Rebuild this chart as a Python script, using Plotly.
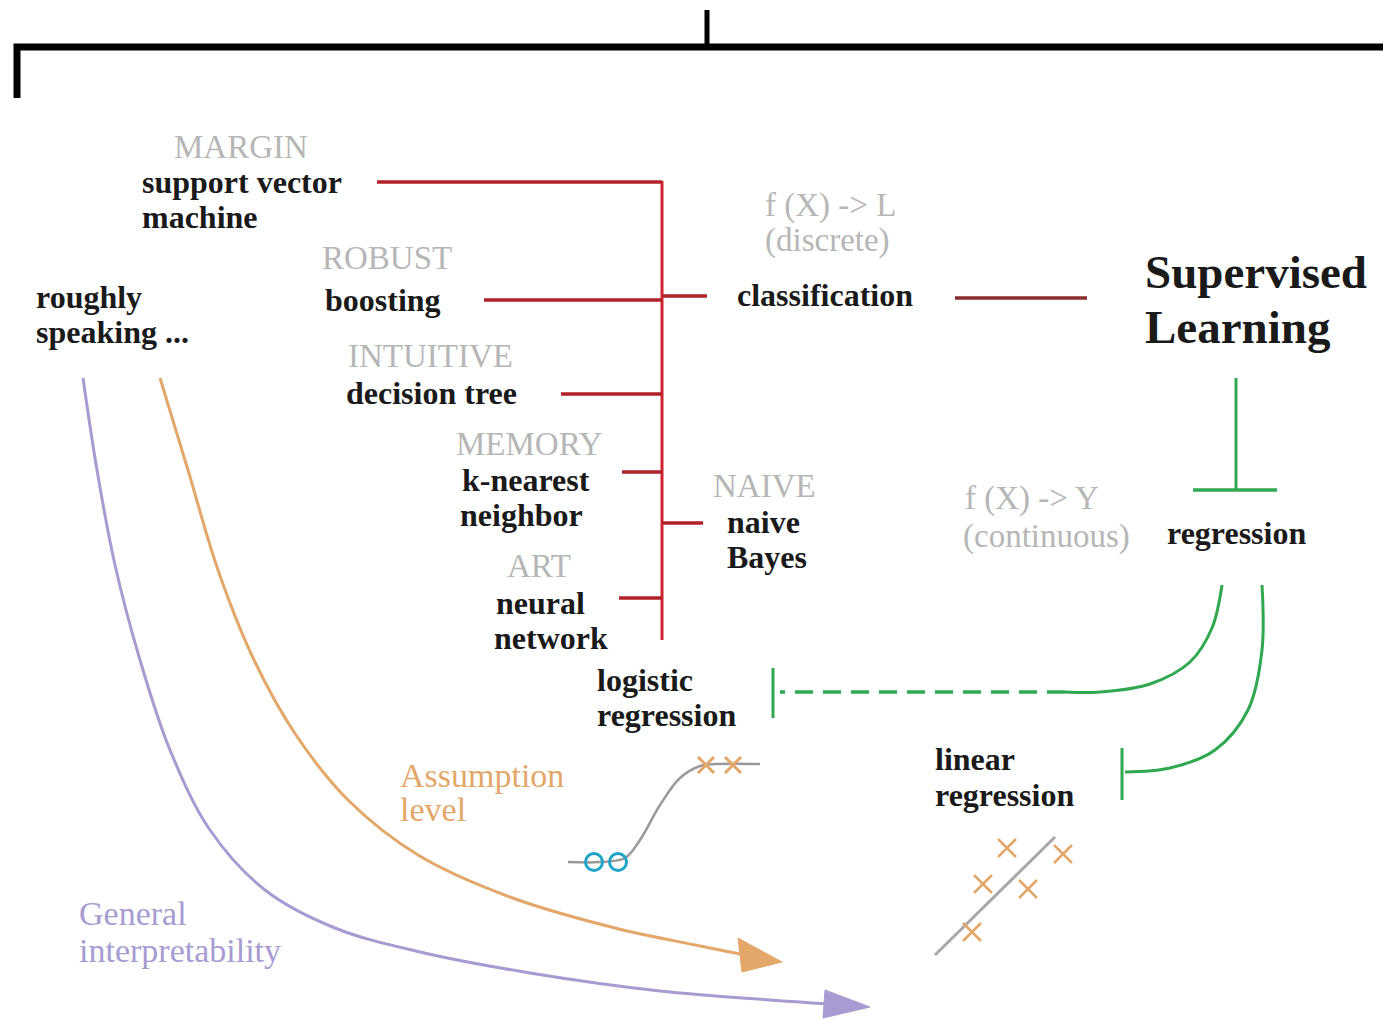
import plotly.graph_objects as go

W, H = 1383, 1020

# ---------------- data ----------------
black_lines = ["support vector", "machine", "boosting", "roughly", "speaking ...", "decision tree",
               "k-nearest", "neighbor", "naive", "Bayes", "neural", "network", "classification",
               "regression", "logistic", "regression", "linear", "regression"]
black_pos = [(142, 182), (142, 217), (325, 300), (36, 297), (36, 332), (346, 393),
             (462, 480), (460, 515), (727, 522), (727, 557), (496, 603), (494, 638),
             (737, 295), (1167, 533), (597, 680), (597, 715), (935, 759), (935, 795)]

gray_lines = ["MARGIN", "ROBUST", "INTUITIVE", "MEMORY", "NAIVE", "ART",
              "f (X) -> L", "(discrete)", "f (X) -> Y", "(continuous)"]
gray_pos = [(174, 147), (322, 258), (348, 356), (456, 444), (713, 486), (507, 566),
            (765, 205), (765, 240), (965, 498), (963, 536)]

title_lines = ["Supervised", "Learning"]
title_pos = [(1145, 272), (1145, 327)]

assume_lines = ["Assumption", "level"]
assume_pos = [(400, 775), (400, 809)]
interp_lines = ["General", "interpretability"]
interp_pos = [(79, 913), (79, 950)]

# red classification tree: branch start x, y
red_branch_x = [377, 484, 561, 622, 619]
red_branch_y = [182, 300, 394, 472, 598]
red_trunk_x = 662
red_trunk_y = [181, 640]
red_stub_x = [[662, 707], [662, 703]]
red_stub_y = [296, 523]
class_link_x = [955, 1087]
class_link_y = 298

# top black bracket
bracket_x = [17, 17, 1383]
bracket_y = [98, 47, 47]
bracket_tick_x = [707, 707]
bracket_tick_y = [10, 47]

# green regression connections
green_stem_x = [1236, 1236]
green_stem_y = [378, 490]
green_bar_x = [1193, 1277]
green_bar_y = [490, 490]
logit_curve_x = [1222, 1212, 1190, 1150, 1100, 1065]
logit_curve_y = [585, 628, 662, 684, 692, 692]
logit_dash_x = [1065, 780]
logit_dash_y = [692, 692]
logit_bar_x = [773, 773]
logit_bar_y = [668, 718]
lin_curve_x = [1262, 1262, 1248, 1215, 1170, 1125]
lin_curve_y = [585, 650, 710, 750, 768, 772]
lin_bar_x = [1122, 1122]
lin_bar_y = [748, 800]

# logistic mini plot
sig_x = [568, 600, 625, 640, 660, 680, 700, 715, 760]
sig_y = [862, 862, 858, 840, 805, 778, 766, 764, 764]
circ_x = [594, 618]
circ_y = [862, 862]
sig_cross_x = [706, 733]
sig_cross_y = [765, 765]

# linear mini plot
lin_x = [935, 1055]
lin_y = [955, 837]
lin_cross_x = [1007, 1063, 983, 1028, 972]
lin_cross_y = [848, 854, 884, 889, 932]

# sweeping arrows
assume_x = [160, 188, 218, 254, 296, 348, 418, 510, 615, 700, 745]
assume_y = [378, 470, 570, 660, 735, 800, 855, 897, 928, 946, 955]
assume_head_x = [738, 782, 742, 738]
assume_head_y = [938, 962, 972, 938]
interp_x = [83, 97, 115, 140, 170, 210, 265, 335, 420, 530, 660, 770, 830]
interp_y = [378, 470, 565, 660, 750, 830, 890, 928, 952, 973, 991, 1000, 1004]
interp_head_x = [825, 870, 823, 825]
interp_head_y = [990, 1007, 1018, 990]

# ---------------- colours / styles ----------------
RED = "#d0242e"
DRED = "#b02228"
MAROON = "#8c2e30"
GREEN = "#2fa84f"
GRAY_TXT = "#b6b6b6"
ORANGE = "#e3a76a"
PURPLE = "#a79bd2"
SERIF = "Liberation Serif"

fig = go.Figure()

def line(xs, ys, color, width, dash="solid", shape="linear"):
    fig.add_trace(go.Scatter(x=xs, y=ys, mode="lines",
                             line=dict(color=color, width=width, dash=dash, shape=shape),
                             hoverinfo="skip", showlegend=False))

# bracket
line(bracket_x, bracket_y, "black", 7)
line(bracket_tick_x, bracket_tick_y, "black", 5)

# red tree
line([red_trunk_x, red_trunk_x], red_trunk_y, RED, 3)
for bx, by in zip(red_branch_x, red_branch_y):
    line([bx, red_trunk_x], [by, by], DRED, 3.5)
for sx, sy in zip(red_stub_x, red_stub_y):
    line(sx, [sy, sy], DRED, 3.5)
line(class_link_x, [class_link_y, class_link_y], MAROON, 3.5)

# green
line(green_stem_x, green_stem_y, GREEN, 3)
line(green_bar_x, green_bar_y, GREEN, 3.5)
line(logit_curve_x, logit_curve_y, GREEN, 3, shape="spline")
line(logit_dash_x, logit_dash_y, GREEN, 3.5, dash="18px,10px")
line(logit_bar_x, logit_bar_y, GREEN, 3)
line(lin_curve_x, lin_curve_y, GREEN, 3, shape="spline")
line(lin_bar_x, lin_bar_y, GREEN, 3)

# sweeping curves
line(assume_x, assume_y, ORANGE, 3, shape="spline")
fig.add_trace(go.Scatter(x=assume_head_x, y=assume_head_y, mode="lines", fill="toself",
                         fillcolor=ORANGE, line=dict(color=ORANGE, width=1),
                         hoverinfo="skip", showlegend=False))
line(interp_x, interp_y, PURPLE, 3, shape="spline")
fig.add_trace(go.Scatter(x=interp_head_x, y=interp_head_y, mode="lines", fill="toself",
                         fillcolor=PURPLE, line=dict(color=PURPLE, width=1),
                         hoverinfo="skip", showlegend=False))

# logistic mini plot
line(sig_x, sig_y, "#9a9a9a", 2.5, shape="spline")
fig.add_trace(go.Scatter(x=circ_x, y=circ_y, mode="markers",
                         marker=dict(symbol="circle-open", size=17, color="#1ea5c8",
                                     line=dict(width=3, color="#1ea5c8")),
                         hoverinfo="skip", showlegend=False))
fig.add_trace(go.Scatter(x=sig_cross_x, y=sig_cross_y, mode="markers",
                         marker=dict(symbol="x-thin-open", size=16, color=ORANGE,
                                     line=dict(width=3, color=ORANGE)),
                         hoverinfo="skip", showlegend=False))

# linear mini plot
line(lin_x, lin_y, "#a8a8a8", 3)
fig.add_trace(go.Scatter(x=lin_cross_x, y=lin_cross_y, mode="markers",
                         marker=dict(symbol="x-thin-open", size=18, color=ORANGE,
                                     line=dict(width=2.5, color=ORANGE)),
                         hoverinfo="skip", showlegend=False))

# text
annotations = []
def label(t, x, y, size, color, bold=False):
    annotations.append(dict(x=x, y=y, text=("<b>%s</b>" % t) if bold else t,
                            showarrow=False, xanchor="left", yanchor="middle", align="left",
                            xshift=-2, font=dict(family=SERIF, size=size, color=color)))

for t, (x, y) in zip(black_lines, black_pos):
    label(t, x, y, 32, "#1a1a1a", bold=True)
for t, (x, y) in zip(gray_lines, gray_pos):
    label(t, x, y, 33, GRAY_TXT)
for t, (x, y) in zip(title_lines, title_pos):
    label(t, x, y, 47, "#1a1a1a", bold=True)
for t, (x, y) in zip(assume_lines, assume_pos):
    label(t, x, y, 34, ORANGE)
for t, (x, y) in zip(interp_lines, interp_pos):
    label(t, x, y, 34, PURPLE)

fig.update_layout(
    width=W, height=H, margin=dict(l=0, r=0, t=0, b=0),
    paper_bgcolor="white", plot_bgcolor="white",
    xaxis=dict(range=[0, W], visible=False, fixedrange=True),
    yaxis=dict(range=[H, 0], visible=False, fixedrange=True),
    annotations=annotations, showlegend=False,
)

fig.write_html("out.html", config={"displayModeBar": False},
               post_script="document.body.style.margin='0';document.body.style.padding='0';"
                           "document.body.style.overflow='hidden';")
